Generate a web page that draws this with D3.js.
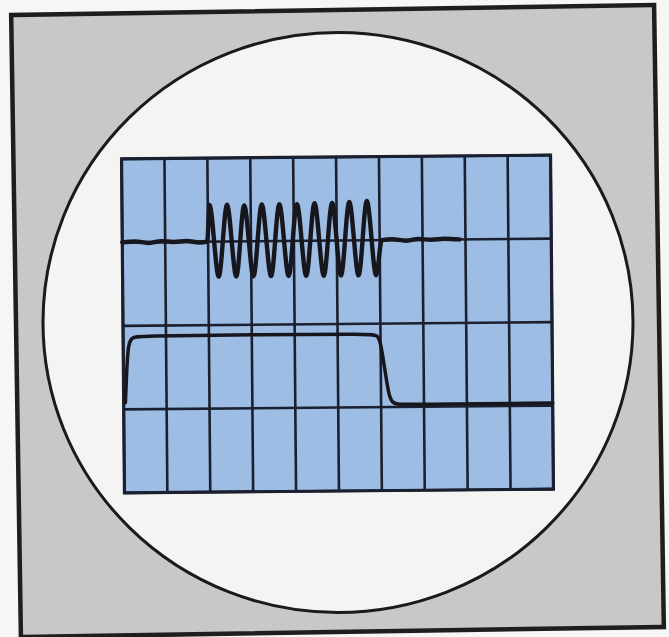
<!DOCTYPE html>
<html>
<head>
<meta charset="utf-8">
<script src="https://cdn.jsdelivr.net/npm/d3@7/dist/d3.min.js"></script>
<style>
  html, body { margin: 0; padding: 0; background: #f6f6f4; }
  svg { display: block; }
</style>
</head>
<body>
<script>
// ---- data (screen divisions: x 0..10, y -2..2) ----
const xDivisions = [0, 1, 2, 3, 4, 5, 6, 7, 8, 9, 10];
const yDivisions = [-2, -1, 0, 1, 2];

// top trace: noisy baseline, tone burst, noisy baseline
const burstX = [0.00, 0.30, 0.60, 0.90, 1.20, 1.50, 1.80, 1.98,
  2.04, 2.24, 2.45, 2.65, 2.85, 3.05, 3.26, 3.46, 3.67, 3.87, 4.08, 4.28,
  4.49, 4.69, 4.90, 5.09, 5.30, 5.50, 5.71, 5.91, 6.05,
  6.30, 6.60, 6.90, 7.20, 7.50, 7.86];
const burstY = [0.00, 0.01, -0.01, 0.01, 0.00, 0.01, -0.01, 0.00,
  0.44, -0.42, 0.44, -0.42, 0.43, -0.42, 0.44, -0.42, 0.44, -0.42, 0.44, -0.42,
  0.45, -0.42, 0.45, -0.42, 0.46, -0.42, 0.47, -0.42, 0.00,
  0.01, -0.01, 0.01, 0.00, 0.01, 0.00];

// bottom trace: rectangular gate pulse
const pulseX = [0.04, 0.08, 0.12, 0.20, 0.35, 3.00, 5.80, 5.93, 6.00, 6.08, 6.18, 6.26, 6.40, 6.70, 10.0];
const pulseY = [-0.92, -0.50, -0.22, -0.14, -0.12, -0.12, -0.12, -0.14, -0.22, -0.50, -0.86, -0.95, -0.97, -0.97, -0.97];

// ---- layout ----
const W = 669, H = 637;
const svg = d3.select("body").append("svg").attr("width", W).attr("height", H);

// outer frame (slightly rotated like the photo)
const frame = { x: 16, y: 10, w: 643, h: 622 };
const fcx = frame.x + frame.w / 2, fcy = frame.y + frame.h / 2;
svg.append("rect")
  .attr("x", frame.x).attr("y", frame.y)
  .attr("width", frame.w).attr("height", frame.h)
  .attr("fill", "#c8c8c7")
  .attr("stroke", "#1e1e1e").attr("stroke-width", 4.5)
  .attr("transform", `rotate(-0.9 ${fcx} ${fcy})`);

// screen bezel circle
svg.append("ellipse")
  .attr("cx", 338).attr("cy", 322.5).attr("rx", 295).attr("ry", 290)
  .attr("fill", "#f4f4f2").attr("stroke", "#1a1a1a").attr("stroke-width", 3);

// graticule
const gx0 = 123, gx1 = 552, gy0 = 157, gy1 = 491;
const x = d3.scaleLinear().domain([0, 10]).range([gx0, gx1]);
const y = d3.scaleLinear().domain([-2, 2]).range([gy1, gy0]);

const g = svg.append("g").attr("transform", `rotate(-0.5 ${(gx0 + gx1) / 2} ${(gy0 + gy1) / 2})`);
g.append("rect")
  .attr("x", x(0)).attr("y", y(2))
  .attr("width", x(10) - x(0)).attr("height", y(-2) - y(2))
  .attr("fill", "#9ebde4");

const gridColor = "#1b2030";
g.selectAll("line.v").data(xDivisions).join("line").attr("class", "v")
  .attr("x1", d => x(d)).attr("x2", d => x(d))
  .attr("y1", y(2)).attr("y2", y(-2))
  .attr("stroke", gridColor).attr("stroke-width", 2.6);
g.selectAll("line.h").data(yDivisions).join("line").attr("class", "h")
  .attr("x1", x(0)).attr("x2", x(10))
  .attr("y1", d => y(d)).attr("y2", d => y(d))
  .attr("stroke", gridColor).attr("stroke-width", 2.6);
g.append("rect")
  .attr("x", x(0)).attr("y", y(2))
  .attr("width", x(10) - x(0)).attr("height", y(-2) - y(2))
  .attr("fill", "none").attr("stroke", gridColor).attr("stroke-width", 3.2);

// traces
const topPts = burstX.map((d, i) => [d, burstY[i] + 1]);
const pulsePts = pulseX.map((d, i) => [d, pulseY[i]]);

const lineTop = d3.line().x(d => x(d[0])).y(d => y(d[1])).curve(d3.curveMonotoneX);
const linePulse = d3.line().x(d => x(d[0])).y(d => y(d[1])).curve(d3.curveBasis);

g.append("path").datum(topPts).attr("d", lineTop)
  .attr("fill", "none").attr("stroke", "#16161c").attr("stroke-width", 4.4)
  .attr("stroke-linejoin", "round").attr("stroke-linecap", "round");
g.append("path").datum(pulsePts).attr("d", linePulse)
  .attr("fill", "none").attr("stroke", "#16161c").attr("stroke-width", 3.5)
  .attr("stroke-linejoin", "round").attr("stroke-linecap", "round");
</script>
</body>
</html>
